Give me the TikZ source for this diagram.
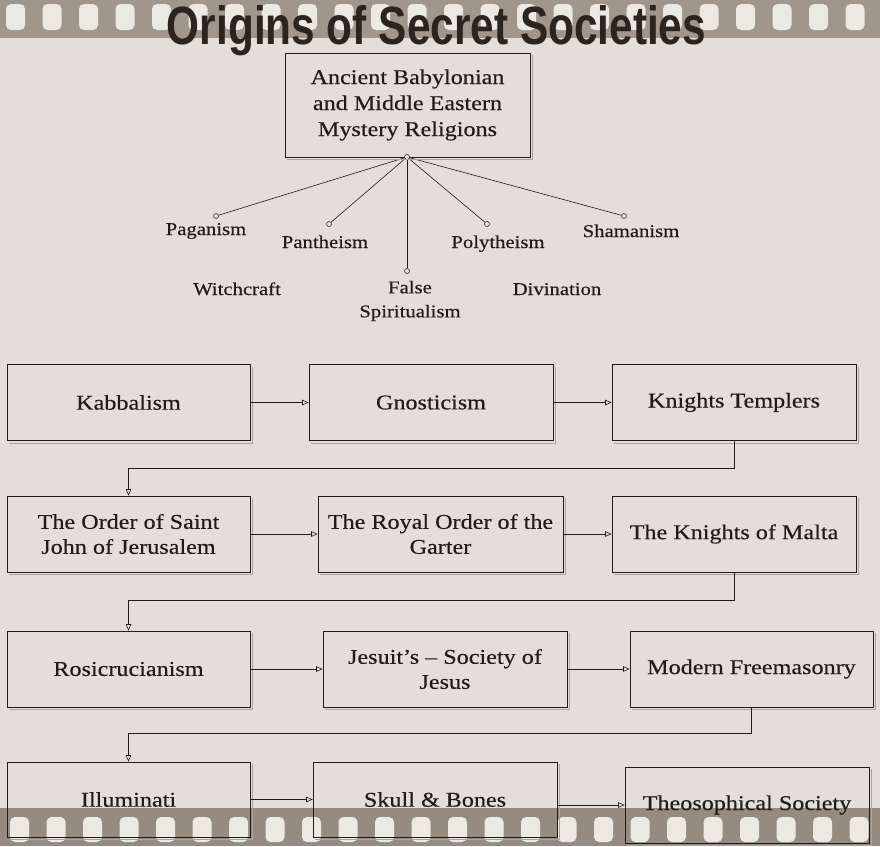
\documentclass[tikz,border=0pt]{standalone}
\usepackage{fontspec}
\usepackage{graphicx}
\setmainfont{Liberation Serif}[FakeStretch=1.15,FakeBold=0.35]
\setsansfont{Liberation Sans}
\usetikzlibrary{arrows.meta}

\definecolor{paper}{HTML}{E3DED7}
\definecolor{band}{HTML}{A0968C}
\definecolor{bandlow}{HTML}{968B80}
\definecolor{hole}{HTML}{ECE8E2}
\definecolor{ink}{HTML}{221C18}
\definecolor{shadowgray}{HTML}{ADA59C}
\definecolor{heading}{HTML}{2C241F}

\begin{document}
\begin{tikzpicture}[x=1pt,y=-1pt,>={Triangle[open,length=6.5pt,width=5.5pt]},
	society/.style={draw=ink,line width=0.7pt,minimum width=244pt,minimum height=76pt,inner sep=2pt,align=center,text=ink,font=\fontsize{21}{25}\selectfont},
	leaf/.style={text=ink,inner sep=0pt,align=center,font=\fontsize{18}{24}\selectfont},
	pin/.style={circle,draw=ink,fill=paper,inner sep=0pt,minimum size=5pt,line width=0.5pt},
	link/.style={->,draw=ink,line width=0.6pt}]

	\useasboundingbox (0,0) rectangle (880,846);
	\fill[paper] (0,0) rectangle (880,846);

	% film strips
	\fill[band] (0,0) rectangle (880,38);
	\fill[bandlow] (0,808) rectangle (880,846);
	\foreach \i in {0,...,23} {
		\fill[hole,rounded corners=5pt] (6+36.5*\i,4) rectangle ++(19,26);
		\fill[hole,rounded corners=5pt] (10+36.5*\i,817) rectangle ++(19,25);
	}

	\node[anchor=base,inner sep=0pt,text=heading] (heading) at (436.5,44) {\resizebox{539pt}{39pt}{\sffamily\bfseries Origins of Secret Societies}};

	% roots
	\node[society,minimum width=245pt,minimum height=104pt,font=\fontsize{21}{26}\selectfont] (ancient) at (407.5,105) {Ancient Babylonian\\and Middle Eastern\\Mystery Religions};
	\node[pin] (hub) at (407,157) {};
	\node[pin] (pagpin) at (216,216) {};
	\node[pin] (panpin) at (329,224) {};
	\node[pin] (falpin) at (407,271) {};
	\node[pin] (polpin) at (487,224) {};
	\node[pin] (shapin) at (624,216) {};
	\foreach \p in {pagpin,panpin,falpin,polpin,shapin}
		\draw[ink,line width=0.6pt] (hub) -- (\p);

	\node[leaf,anchor=base] (paganism) at (206,235) {Paganism};
	\node[leaf,anchor=base] (pantheism) at (325,248) {Pantheism};
	\node[leaf,anchor=base] (polytheism) at (498,248) {Polytheism};
	\node[leaf,anchor=base] (shamanism) at (631,237) {Shamanism};
	\node[leaf,anchor=base] (witchcraft) at (237,295) {Witchcraft};
	\node[leaf,anchor=base] (divination) at (557,295) {Divination};
	\node[leaf] (spiritualism) at (410,301) {False\\Spiritualism};

	% chain
	\node[society,minimum width=243pt] (kabbalism) at (128.5,402.5) {Kabbalism};
	\node[society] (gnosticism) at (431,402.5) {Gnosticism};
	\node[society] (templers) at (734,402.5) {Knights Templers};

	\node[society,minimum width=243pt] (stjohn) at (128.5,534) {The Order of Saint\\John of Jerusalem};
	\node[society,minimum width=245pt] (garter) at (440.5,534) {The Royal Order of the\\Garter};
	\node[society] (malta) at (734,534) {The Knights of Malta};

	\node[society,minimum width=243pt] (rosicrucian) at (128.5,669) {Rosicrucianism};
	\node[society] (jesuits) at (445,669) {Jesuit’s – Society of\\Jesus};
	\node[society,minimum width=243pt] (freemasonry) at (751.5,669) {Modern Freemasonry};

	\node[society,minimum width=243pt,minimum height=75pt] (illuminati) at (128.5,799.5) {Illuminati};
	\node[society,minimum height=75pt] (skull) at (435,799.5) {Skull \& Bones};
	\node[society] (theosophical) at (747,805) {Theosophical Society};

	\foreach \n in {ancient,kabbalism,gnosticism,templers,stjohn,garter,malta,rosicrucian,jesuits,freemasonry,illuminati,skull,theosophical}
		\draw[shadowgray,line width=0.8pt] ([shift={(2.5pt,-2.5pt)}]\n.north east) |- ([shift={(2.5pt,-2.5pt)}]\n.south west);

	\path[link] (kabbalism) edge (gnosticism)
		(gnosticism) edge (templers)
		(stjohn) edge (garter)
		(garter) edge (malta)
		(rosicrucian) edge (jesuits)
		(jesuits) edge (freemasonry)
		(illuminati) edge (skull);
	\draw[link] (skull.east |- theosophical.west) -- (theosophical.west);

	\draw[link] (templers.south) -- ++(0,27) -| (stjohn.north);
	\draw[link] (malta.south) -- ++(0,28) -| (rosicrucian.north);
	\draw[link] (freemasonry.south) -- ++(0,26) -| (illuminati.north);

\end{tikzpicture}
\end{document}
